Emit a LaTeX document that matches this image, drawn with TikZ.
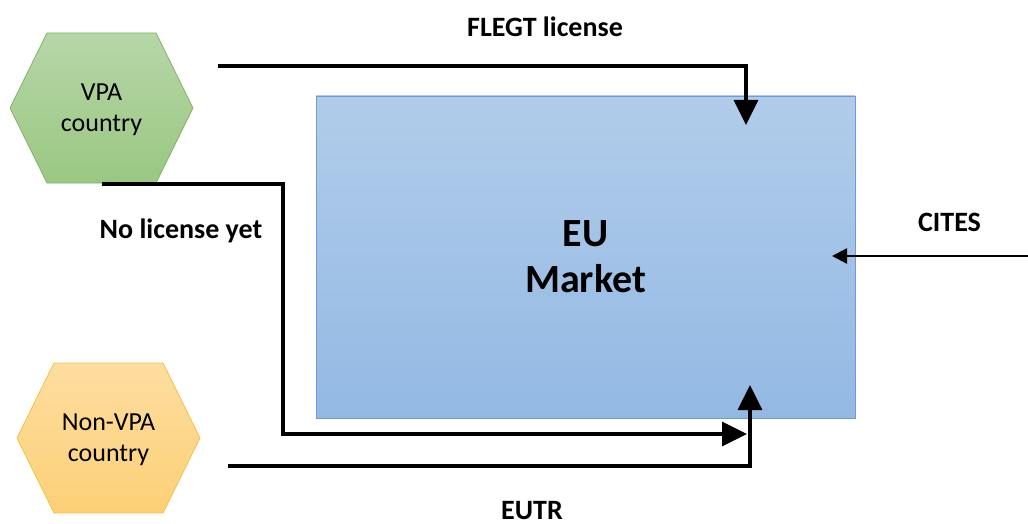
\documentclass[tikz,border=0pt]{standalone}
\usepackage{fontspec}
\setmainfont{Carlito}
\usetikzlibrary{arrows.meta}

\definecolor{vpatop}{RGB}{182,214,167}
\definecolor{vpabot}{RGB}{154,199,130}
\definecolor{vpaline}{RGB}{130,179,102}
\definecolor{nontop}{RGB}{253,221,160}
\definecolor{nonbot}{RGB}{252,208,118}
\definecolor{nonline}{RGB}{244,194,70}
\definecolor{eutop}{RGB}{177,204,234}
\definecolor{eubot}{RGB}{147,185,227}
\definecolor{euline}{RGB}{108,155,213}

\tikzset{
    hexvpa/.style={draw=vpaline, line width=0.8pt, top color=vpatop, bottom color=vpabot},
    hexnon/.style={draw=nonline, line width=0.8pt, top color=nontop, bottom color=nonbot},
    hextext/.style={inner sep=0pt, align=center, font=\fontsize{26}{31}\selectfont},
    flow/.style={line width=3.4pt, -{Triangle[length=25pt, width=24pt]}},
    thinflow/.style={line width=2.3pt, -{Triangle[length=15pt, width=15pt]}},
    lbl/.style={inner sep=0pt, anchor=base, font=\fontsize{28}{33}\selectfont\bfseries}
}

\begin{document}
\begin{tikzpicture}[x=1pt, y=-1pt]
    \useasboundingbox (0,0) rectangle (1028,524);

    % market box
    \node (eu) at (585.5,257) [draw=euline, line width=0.8pt, top color=eutop, bottom color=eubot,
        minimum width=539pt, minimum height=322pt, inner sep=0pt, align=center,
        font=\fontsize{40}{46}\selectfont\bfseries] {EU\\Market};

    % countries
    \coordinate (vpac) at (101.5,108);
    \coordinate (nonc) at (108.5,438);
    \draw[hexvpa] (vpac) ++(-91.5,0) -- ++(37,-75) -- ++(109,0) -- ++(37,75)
        -- ++(-37,75) -- ++(-109,0) -- cycle;
    \draw[hexnon] (nonc) ++(-91.5,0) -- ++(37,-75) -- ++(109,0) -- ++(37,75)
        -- ++(-37,75) -- ++(-109,0) -- cycle;
    \node (vpa) at (101.5,110) [hextext] {VPA\\country};
    \node (non) at (108.5,440) [hextext] {Non-VPA\\country};

    % flows
    \coordinate (flegt0) at (218,66);
    \coordinate (flegt1) at (746,125);
    \coordinate (nolic0) at (102,184);
    \coordinate (nolicbend) at (283,184);
    \coordinate (nolic1) at (747,434);
    \coordinate (eutr0) at (228,466);
    \coordinate (eutr1) at (750,385);
    \coordinate (cites0) at (1028,256);
    \coordinate (cites1) at (832,256);

    \draw[flow] (flegt0) -| (flegt1);
    \draw[flow] (nolic0) -- (nolicbend) |- (nolic1);
    \draw[flow] (eutr0) -| (eutr1);
    \draw[thinflow] (cites0) -- (cites1);

    % labels
    \node (flegtlbl) at (545,37) [lbl] {FLEGT license};
    \node (noliclbl) at (181,238) [lbl] {No license yet};
    \node (citeslbl) at (949.5,231) [lbl] {CITES};
    \node (eutrlbl) at (532,519) [lbl] {EUTR};
\end{tikzpicture}
\end{document}
